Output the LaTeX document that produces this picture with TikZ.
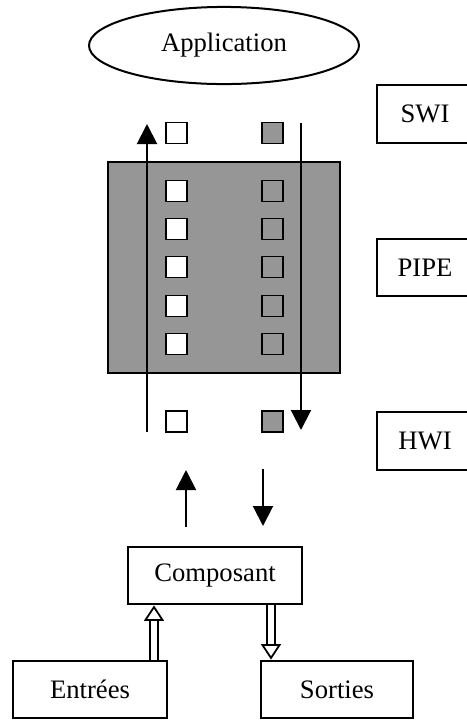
\documentclass[tikz,border=0pt]{standalone}
\usepackage{fontspec}
\setmainfont{Liberation Serif}
\usetikzlibrary{positioning, arrows.meta, shapes.geometric}
\definecolor{pipegray}{RGB}{150,150,150}

\begin{document}
\begin{tikzpicture}[
  x=0.45pt, y=-0.45pt,
  font=\fontsize{12}{14}\selectfont,
  line width=0.9pt,
  box/.style={draw, rectangle, minimum height=26pt, inner sep=2pt},
  layer/.style={box, minimum width=43.2pt},
  cell/.style={draw, line width=0.8pt, minimum size=9.4pt, inner sep=0pt},
  emptycell/.style={cell, fill=white},
  fullcell/.style={cell, fill=pipegray},
  flow/.style={-{Triangle[width=9pt, length=9pt]}},
  hollow/.style={double, double distance=2.9pt, line width=0.8pt,
    -{Triangle[open, fill=white, width=9pt, length=7pt, line width=0.8pt]}}
]
\useasboundingbox (0,0) rectangle (466,720);
% --- application et couches ---
\node[draw, ellipse, minimum width=121.5pt, minimum height=34.7pt] (app) at (224,45.5) {Application};
\node[layer] (swi) at (425,114) {SWI};
\node[layer] (pipelbl) at (425,267.5) {PIPE};
\node[layer] (hwi) at (425,441) {HWI};
% --- pipe ---
\node[draw, fill=pipegray, minimum width=104.4pt, minimum height=95pt] (pipe) at (224,267.5) {};
\coordinate (rxb) at (147,432); \coordinate (rxt) at (147,124);
\coordinate (txt) at (301,123); \coordinate (txb) at (301,430);
\draw[flow] (rxb)--(rxt); \draw[flow] (txt)--(txb);
\node[emptycell] (swiin) at (176.5,133) {};
\node[fullcell] (swiout) at (272.5,133) {};
\foreach \y [count=\i] in {191,229,267,306,344} {
  \node[emptycell] (in\i) at (176.5,\y) {};
  \node[fullcell] (out\i) at (272.5,\y) {};
}
\node[emptycell] (hwiin) at (176.5,421.5) {};
\node[fullcell] (hwiout) at (272.5,421.5) {};
% --- composant ---
\coordinate (upb) at (186,527); \coordinate (upt) at (186,470);
\coordinate (dnt) at (263,469); \coordinate (dnb) at (263,526);
\draw[flow] (upb)--(upt); \draw[flow] (dnt)--(dnb);
\node[box, minimum width=78.3pt] (comp) at (215,575.5) {Composant};
\node[box, minimum width=69.3pt] (entree) at (90,689.5) {Entrées};
\node[box, minimum width=68.4pt] (sortie) at (337,689.5) {Sorties};
\draw[hollow] ([xshift=28.8pt]entree.north) -- ([xshift=28.8pt]entree.north |- comp.south);
\draw[hollow] ([xshift=25.2pt]comp.south) -- ([xshift=25.2pt]comp.south |- sortie.north);
\end{tikzpicture}
\end{document}
